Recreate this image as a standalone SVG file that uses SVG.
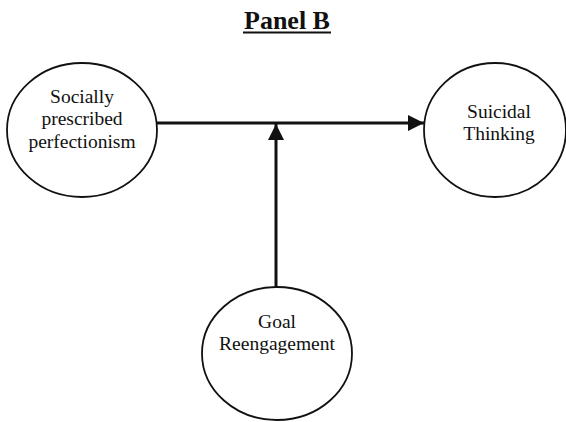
<svg xmlns="http://www.w3.org/2000/svg" width="566" height="422" viewBox="0 0 566 422">
<style>
.node ellipse{fill:#fff;stroke:#111;stroke-width:1.8}
.lbl{font-family:"Liberation Serif","Times New Roman",serif;font-size:19.5px;fill:#111;text-anchor:middle}
.edge{stroke:#111;stroke-width:3;fill:none}
.title{font-family:"Liberation Serif","Times New Roman",serif;font-size:26px;font-weight:bold;fill:#111;text-anchor:middle}
</style>
<defs>
<marker id="arr" markerUnits="userSpaceOnUse" markerWidth="16" markerHeight="16" refX="16" refY="8" orient="auto">
<path d="M0,0 L16,8 L0,16 Z" fill="#111"/>
</marker>
</defs>
<rect width="566" height="422" fill="#fff"/>
<g id="title">
<text class="title" x="287" y="29">Panel B</text>
<line x1="243" y1="32.5" x2="331" y2="32.5" stroke="#111" stroke-width="2"/>
</g>
<g id="connectors">
<line class="edge" x1="157" y1="123" x2="424" y2="123" marker-end="url(#arr)"/>
<line class="edge" x1="276" y1="287" x2="276" y2="124" marker-end="url(#arr)"/>
</g>
<g id="spp" class="node">
<ellipse cx="82" cy="130" rx="75" ry="67"/>
<text class="lbl" x="82" y="103">Socially</text>
<text class="lbl" x="82" y="125">prescribed</text>
<text class="lbl" x="82" y="148">perfectionism</text>
</g>
<g id="st" class="node">
<ellipse cx="495" cy="130" rx="71" ry="67"/>
<text class="lbl" x="499" y="118">Suicidal</text>
<text class="lbl" x="499" y="140">Thinking</text>
</g>
<g id="gr" class="node">
<ellipse cx="277" cy="353.5" rx="75" ry="66.5"/>
<text class="lbl" x="277" y="328">Goal</text>
<text class="lbl" x="277" y="350">Reengagement</text>
</g>
</svg>
